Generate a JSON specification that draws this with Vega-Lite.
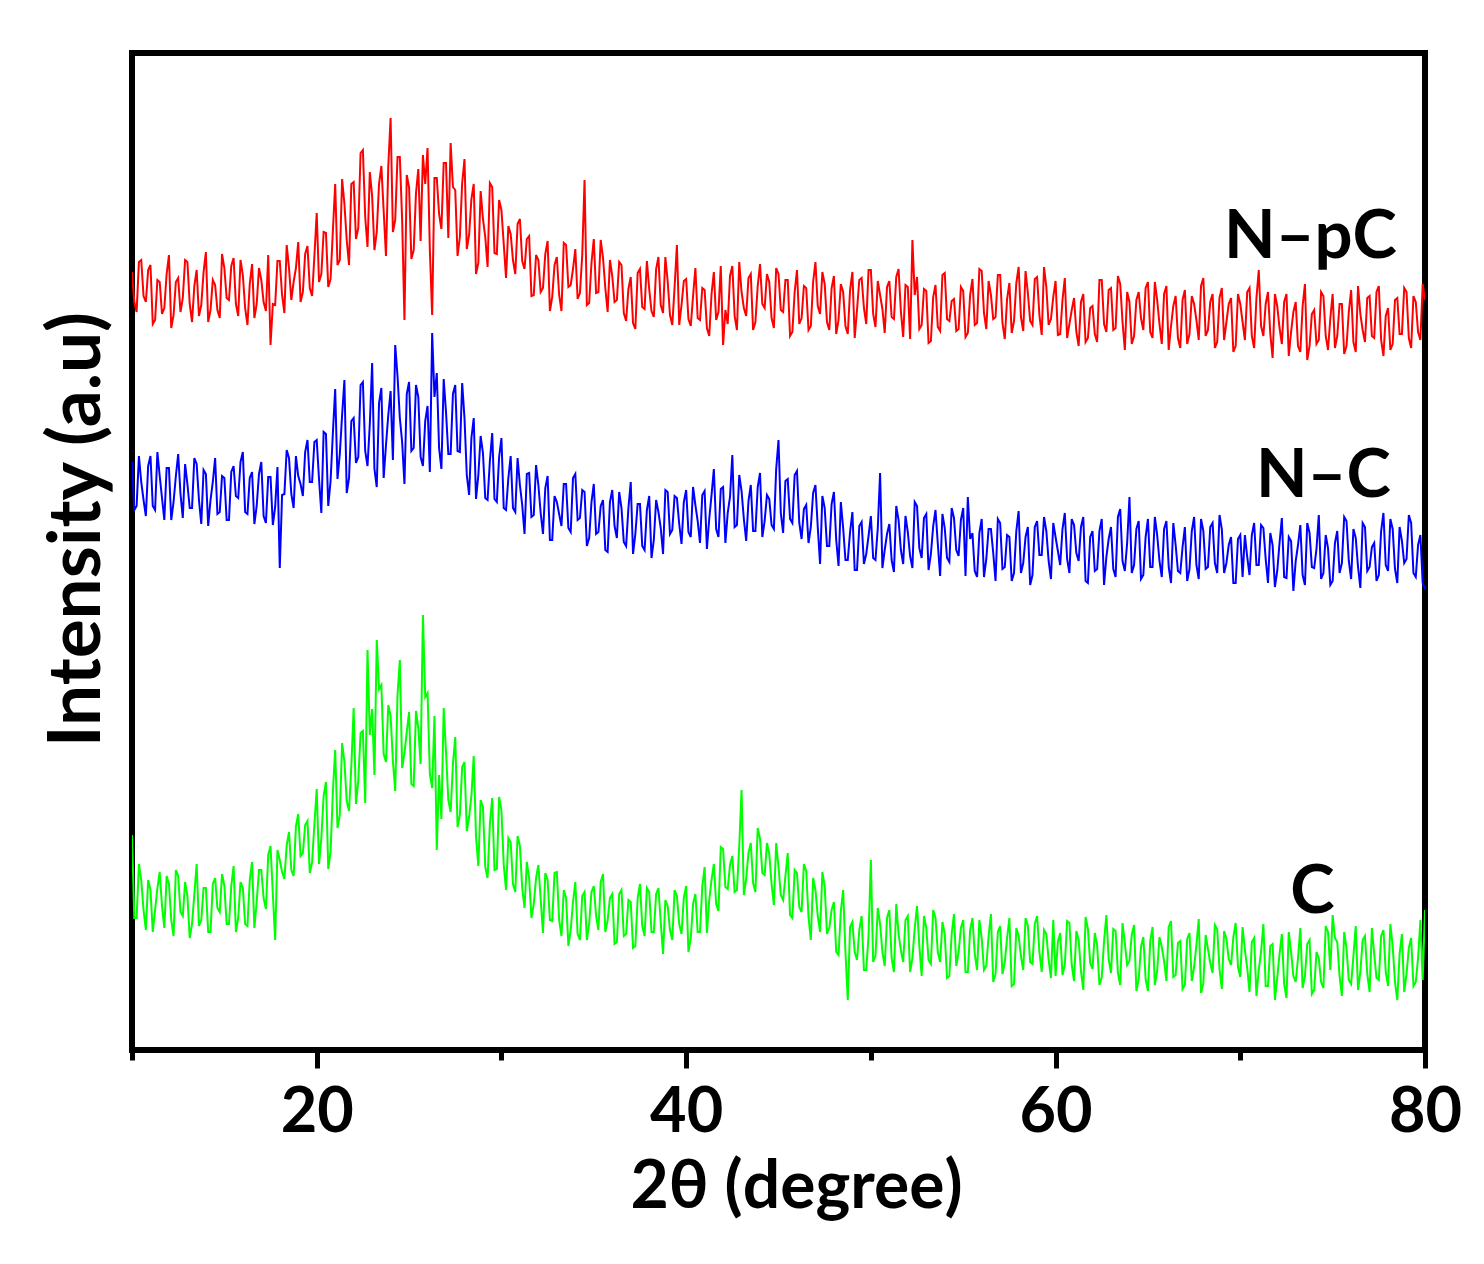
{
"$schema": "https://vega.github.io/schema/vega-lite/v6.json",
"width": 1293, "height": 997,
"autosize": {"type": "none"},
"padding": {"left": 132, "top": 53, "right": 59, "bottom": 214},
"background": "white",
"config": {"view": {"stroke": "black", "strokeWidth": 6}, "font": "Lato"},
"layer": [
{
"data": {"values": [
{"x":10,"NpC":778,"NC":588,"C":215},{"x":10.25,"NpC":738,"NC":544,"C":132},{"x":10.5,"NpC":790,"NC":568,"C":170},{"x":10.75,"NpC":748,"NC":534,"C":120},
{"x":11,"NpC":785,"NC":594,"C":160},{"x":11.25,"NpC":730,"NC":540,"C":140},{"x":11.5,"NpC":768,"NC":574,"C":178},{"x":11.75,"NpC":742,"NC":530,"C":122},
{"x":12,"NpC":795,"NC":582,"C":166},{"x":12.25,"NpC":735,"NC":548,"C":114},{"x":12.5,"NpC":772,"NC":596,"C":174},{"x":12.75,"NpC":752,"NC":532,"C":134},
{"x":13,"NpC":788,"NC":566,"C":154},{"x":13.25,"NpC":728,"NC":542,"C":126},{"x":13.5,"NpC":780,"NC":586,"C":186},{"x":13.75,"NpC":745,"NC":526,"C":130},
{"x":14,"NpC":798,"NC":576,"C":162},{"x":14.25,"NpC":740,"NC":550,"C":118},{"x":14.5,"NpC":765,"NC":592,"C":172},{"x":14.75,"NpC":732,"NC":538,"C":138},
{"x":15,"NpC":782,"NC":572,"C":164},{"x":15.25,"NpC":750,"NC":530,"C":126},{"x":15.5,"NpC":792,"NC":584,"C":184},{"x":15.75,"NpC":734,"NC":552,"C":132},
{"x":16,"NpC":775,"NC":598,"C":162},{"x":16.25,"NpC":725,"NC":536,"C":124},{"x":16.5,"NpC":786,"NC":578,"C":188},{"x":16.75,"NpC":746,"NC":544,"C":148},
{"x":17,"NpC":770,"NC":588,"C":180},{"x":17.25,"NpC":739,"NC":527,"C":141},{"x":17.5,"NpC":705,"NC":573,"C":204},{"x":17.75,"NpC":745,"NC":543,"C":110},
{"x":18,"NpC":789,"NC":482,"C":190},{"x":18.25,"NpC":737,"NC":556,"C":171},{"x":18.5,"NpC":782,"NC":592,"C":218},{"x":18.75,"NpC":768,"NC":542,"C":174},
{"x":19,"NpC":808,"NC":574,"C":236},{"x":19.25,"NpC":758,"NC":554,"C":197},{"x":19.5,"NpC":804,"NC":610,"C":229},{"x":19.75,"NpC":754,"NC":568,"C":188},
{"x":20,"NpC":837,"NC":610,"C":261},{"x":20.25,"NpC":776,"NC":537,"C":212},{"x":20.5,"NpC":817,"NC":616,"C":268},{"x":20.75,"NpC":771,"NC":569,"C":198},
{"x":21,"NpC":866,"NC":661,"C":300},{"x":21.25,"NpC":790,"NC":596,"C":235},{"x":21.5,"NpC":846,"NC":670,"C":288},{"x":21.75,"NpC":785,"NC":572,"C":239},
{"x":22,"NpC":868,"NC":632,"C":342},{"x":22.25,"NpC":822,"NC":593,"C":269},{"x":22.5,"NpC":900,"NC":668,"C":319},{"x":22.75,"NpC":803,"NC":584,"C":400},
{"x":23,"NpC":854,"NC":687,"C":341},{"x":23.25,"NpC":818,"NC":563,"C":410},{"x":23.5,"NpC":884,"NC":662,"C":365},{"x":23.75,"NpC":794,"NC":605,"C":288},
{"x":24,"NpC":932,"NC":659,"C":334},{"x":24.25,"NpC":830,"NC":705,"C":259},{"x":24.5,"NpC":893,"NC":632,"C":390},{"x":24.75,"NpC":730,"NC":566,"C":297},
{"x":25,"NpC":863,"NC":668,"C":338},{"x":25.25,"NpC":800,"NC":602,"C":264},{"x":25.5,"NpC":881,"NC":653,"C":322},{"x":25.75,"NpC":895,"NC":584,"C":435},
{"x":26,"NpC":902,"NC":644,"C":357},{"x":26.25,"NpC":735,"NC":717,"C":262},{"x":26.5,"NpC":872,"NC":677,"C":200},{"x":26.75,"NpC":821,"NC":581,"C":231},
{"x":27,"NpC":887,"NC":638,"C":298},{"x":27.25,"NpC":907,"NC":596,"C":238},{"x":27.5,"NpC":860,"NC":665,"C":313},{"x":27.75,"NpC":813,"NC":598,"C":235},
{"x":28,"NpC":891,"NC":632,"C":288},{"x":28.25,"NpC":815,"NC":555,"C":233},{"x":28.5,"NpC":866,"NC":632,"C":294},{"x":28.75,"NpC":787,"NC":575,"C":184},
{"x":29,"NpC":831,"NC":597,"C":243},{"x":29.25,"NpC":783,"NC":550,"C":172},{"x":29.5,"NpC":863,"NC":617,"C":252},{"x":29.75,"NpC":796,"NC":548,"C":181},
{"x":30,"NpC":840,"NC":612,"C":240},{"x":30.25,"NpC":772,"NC":540,"C":160},{"x":30.5,"NpC":816,"NC":594,"C":208},{"x":30.75,"NpC":776,"NC":538,"C":158},
{"x":31,"NpC":831,"NC":565,"C":204},{"x":31.25,"NpC":781,"NC":516,"C":142},{"x":31.5,"NpC":814,"NC":577,"C":172},{"x":31.75,"NpC":755,"NC":535,"C":146},
{"x":32,"NpC":790,"NC":565,"C":185},{"x":32.25,"NpC":762,"NC":516,"C":117},{"x":32.5,"NpC":809,"NC":574,"C":170},{"x":32.75,"NpC":753,"NC":510,"C":129},
{"x":33,"NpC":793,"NC":548,"C":178},{"x":33.25,"NpC":739,"NC":524,"C":114},{"x":33.5,"NpC":805,"NC":566,"C":152},{"x":33.75,"NpC":765,"NC":518,"C":120},
{"x":34,"NpC":801,"NC":576,"C":168},{"x":34.25,"NpC":757,"NC":532,"C":110},{"x":34.5,"NpC":870,"NC":558,"C":158},{"x":34.75,"NpC":747,"NC":512,"C":126},
{"x":35,"NpC":811,"NC":566,"C":164},{"x":35.25,"NpC":758,"NC":518,"C":120},{"x":35.5,"NpC":792,"NC":550,"C":176},{"x":35.75,"NpC":738,"NC":498,"C":130},
{"x":36,"NpC":774,"NC":560,"C":156},{"x":36.25,"NpC":750,"NC":512,"C":108},{"x":36.5,"NpC":785,"NC":542,"C":160},{"x":36.75,"NpC":729,"NC":504,"C":116},
{"x":37,"NpC":773,"NC":568,"C":148},{"x":37.25,"NpC":721,"NC":516,"C":104},{"x":37.5,"NpC":781,"NC":546,"C":166},{"x":37.75,"NpC":741,"NC":500,"C":114},
{"x":38,"NpC":761,"NC":554,"C":158},{"x":38.25,"NpC":733,"NC":510,"C":118},{"x":38.5,"NpC":793,"NC":538,"C":162},{"x":38.75,"NpC":737,"NC":496,"C":96},
{"x":39,"NpC":769,"NC":558,"C":144},{"x":39.25,"NpC":725,"NC":520,"C":110},{"x":39.5,"NpC":805,"NC":552,"C":154},{"x":39.75,"NpC":745,"NC":506,"C":116},
{"x":40,"NpC":771,"NC":560,"C":164},{"x":40.25,"NpC":724,"NC":513,"C":112},{"x":40.5,"NpC":782,"NC":545,"C":156},{"x":40.75,"NpC":730,"NC":507,"C":118},
{"x":41,"NpC":760,"NC":559,"C":183},{"x":41.25,"NpC":714,"NC":531,"C":150},{"x":41.5,"NpC":778,"NC":581,"C":186},{"x":41.75,"NpC":738,"NC":513,"C":139},
{"x":42,"NpC":705,"NC":563,"C":201},{"x":42.25,"NpC":726,"NC":537,"C":161},{"x":42.5,"NpC":784,"NC":595,"C":194},{"x":42.75,"NpC":720,"NC":525,"C":160},
{"x":43,"NpC":758,"NC":559,"C":260},{"x":43.25,"NpC":734,"NC":509,"C":171},{"x":43.5,"NpC":776,"NC":565,"C":207},{"x":43.75,"NpC":728,"NC":519,"C":158},
{"x":44,"NpC":786,"NC":577,"C":211},{"x":44.25,"NpC":742,"NC":529,"C":175},{"x":44.5,"NpC":768,"NC":551,"C":196},{"x":44.75,"NpC":722,"NC":521,"C":145},
{"x":45,"NpC":776,"NC":610,"C":183},{"x":45.25,"NpC":738,"NC":517,"C":150},{"x":45.5,"NpC":770,"NC":571,"C":197},{"x":45.75,"NpC":718,"NC":527,"C":132},
{"x":46,"NpC":780,"NC":579,"C":177},{"x":46.25,"NpC":732,"NC":511,"C":138},{"x":46.5,"NpC":762,"NC":545,"C":179},{"x":46.75,"NpC":724,"NC":523,"C":110},
{"x":47,"NpC":788,"NC":565,"C":160},{"x":47.25,"NpC":736,"NC":486,"C":118},{"x":47.5,"NpC":766,"NC":542,"C":164},{"x":47.75,"NpC":720,"NC":504,"C":122},
{"x":48,"NpC":774,"NC":558,"C":148},{"x":48.25,"NpC":730,"NC":484,"C":95},{"x":48.5,"NpC":758,"NC":522,"C":160},{"x":48.75,"NpC":716,"NC":490,"C":50},
{"x":49,"NpC":778,"NC":538,"C":128},{"x":49.25,"NpC":740,"NC":480,"C":90},{"x":49.5,"NpC":772,"NC":528,"C":134},{"x":49.75,"NpC":726,"NC":496,"C":80},
{"x":50,"NpC":780,"NC":534,"C":190},{"x":50.25,"NpC":723,"NC":490,"C":94},{"x":50.5,"NpC":755,"NC":577,"C":126},{"x":50.75,"NpC":717,"NC":500,"C":84},
{"x":51,"NpC":769,"NC":526,"C":140},{"x":51.25,"NpC":731,"NC":478,"C":78},{"x":51.5,"NpC":781,"NC":530,"C":116},{"x":51.75,"NpC":713,"NC":486,"C":88},
{"x":52,"NpC":763,"NC":518,"C":134},{"x":52.25,"NpC":810,"NC":482,"C":92},{"x":52.5,"NpC":773,"NC":544,"C":144},{"x":52.75,"NpC":725,"NC":492,"C":74},
{"x":53,"NpC":759,"NC":536,"C":122},{"x":53.25,"NpC":709,"NC":496,"C":86},{"x":53.5,"NpC":765,"NC":540,"C":132},{"x":53.75,"NpC":719,"NC":474,"C":88},
{"x":54,"NpC":777,"NC":522,"C":116},{"x":54.25,"NpC":729,"NC":488,"C":74},{"x":54.5,"NpC":751,"NC":532,"C":136},{"x":54.75,"NpC":721,"NC":494,"C":98},
{"x":55,"NpC":759,"NC":542,"C":130},{"x":55.25,"NpC":717,"NC":553,"C":78},{"x":55.5,"NpC":771,"NC":517,"C":132},{"x":55.75,"NpC":727,"NC":473,"C":80},
{"x":56,"NpC":779,"NC":531,"C":112},{"x":56.25,"NpC":721,"NC":491,"C":84},{"x":56.5,"NpC":755,"NC":521,"C":136},{"x":56.75,"NpC":733,"NC":469,"C":76},
{"x":57,"NpC":775,"NC":527,"C":124},{"x":57.25,"NpC":711,"NC":483,"C":88},{"x":57.5,"NpC":767,"NC":513,"C":132},{"x":57.75,"NpC":729,"NC":477,"C":66},
{"x":58,"NpC":783,"NC":539,"C":114},{"x":58.25,"NpC":719,"NC":487,"C":80},{"x":58.5,"NpC":757,"NC":523,"C":124},{"x":58.75,"NpC":725,"NC":475,"C":86},
{"x":59,"NpC":773,"NC":529,"C":134},{"x":59.25,"NpC":715,"NC":495,"C":78},{"x":59.5,"NpC":763,"NC":519,"C":116},{"x":59.75,"NpC":731,"NC":471,"C":72},
{"x":60,"NpC":769,"NC":513,"C":74},{"x":60.25,"NpC":716,"NC":485,"C":117},{"x":60.5,"NpC":772,"NC":537,"C":85},{"x":60.75,"NpC":726,"NC":477,"C":127},
{"x":61,"NpC":752,"NC":525,"C":69},{"x":61.25,"NpC":704,"NC":489,"C":110},{"x":61.5,"NpC":756,"NC":533,"C":60},{"x":61.75,"NpC":712,"NC":467,"C":121},
{"x":62,"NpC":744,"NC":519,"C":81},{"x":62.25,"NpC":708,"NC":481,"C":105},{"x":62.5,"NpC":770,"NC":531,"C":73},{"x":62.75,"NpC":718,"NC":493,"C":135},
{"x":63,"NpC":762,"NC":523,"C":77},{"x":63.25,"NpC":722,"NC":473,"C":119},{"x":63.5,"NpC":766,"NC":541,"C":65},{"x":63.75,"NpC":700,"NC":479,"C":107},
{"x":64,"NpC":748,"NC":553,"C":89},{"x":64.25,"NpC":714,"NC":485,"C":125},{"x":64.5,"NpC":758,"NC":529,"C":71},{"x":64.75,"NpC":720,"NC":475,"C":113},
{"x":65,"NpC":768,"NC":531,"C":59},{"x":65.25,"NpC":712,"NC":483,"C":123},{"x":65.5,"NpC":750,"NC":515,"C":79},{"x":65.75,"NpC":706,"NC":473,"C":103},
{"x":66,"NpC":764,"NC":529,"C":69},{"x":66.25,"NpC":724,"NC":467,"C":129},{"x":66.5,"NpC":754,"NC":505,"C":75},{"x":66.75,"NpC":702,"NC":477,"C":109},
{"x":67,"NpC":760,"NC":523,"C":65},{"x":67.25,"NpC":716,"NC":481,"C":117},{"x":67.5,"NpC":746,"NC":533,"C":83},{"x":67.75,"NpC":710,"NC":471,"C":131},
{"x":68,"NpC":772,"NC":519,"C":67},{"x":68.25,"NpC":720,"NC":483,"C":101},{"x":68.5,"NpC":756,"NC":527,"C":77},{"x":68.75,"NpC":708,"NC":477,"C":121},
{"x":69,"NpC":762,"NC":521,"C":61},{"x":69.25,"NpC":728,"NC":487,"C":111},{"x":69.5,"NpC":752,"NC":513,"C":85},{"x":69.75,"NpC":704,"NC":467,"C":127},
{"x":70,"NpC":746,"NC":515,"C":73},{"x":70.25,"NpC":710,"NC":515,"C":100},{"x":70.5,"NpC":762,"NC":475,"C":58},{"x":70.75,"NpC":702,"NC":527,"C":112},
{"x":71,"NpC":780,"NC":485,"C":80},{"x":71.25,"NpC":714,"NC":522,"C":126},{"x":71.5,"NpC":758,"NC":467,"C":64},{"x":71.75,"NpC":692,"NC":505,"C":106},
{"x":72,"NpC":744,"NC":479,"C":72},{"x":72.25,"NpC":706,"NC":532,"C":116},{"x":72.5,"NpC":756,"NC":472,"C":52},{"x":72.75,"NpC":718,"NC":509,"C":98},
{"x":73,"NpC":748,"NC":489,"C":68},{"x":73.25,"NpC":698,"NC":525,"C":122},{"x":73.5,"NpC":766,"NC":465,"C":74},{"x":73.75,"NpC":704,"NC":517,"C":110},
{"x":74,"NpC":740,"NC":482,"C":60},{"x":74.25,"NpC":710,"NC":535,"C":92},{"x":74.5,"NpC":754,"NC":477,"C":62},{"x":74.75,"NpC":700,"NC":502,"C":118},
{"x":75,"NpC":756,"NC":469,"C":135},{"x":75.25,"NpC":714,"NC":519,"C":108},{"x":75.5,"NpC":746,"NC":487,"C":54},{"x":75.75,"NpC":704,"NC":529,"C":102},
{"x":76,"NpC":760,"NC":471,"C":66},{"x":76.25,"NpC":698,"NC":512,"C":124},{"x":76.5,"NpC":736,"NC":462,"C":78},{"x":76.75,"NpC":708,"NC":523,"C":114},
{"x":77,"NpC":754,"NC":483,"C":58},{"x":77.25,"NpC":712,"NC":507,"C":96},{"x":77.5,"NpC":764,"NC":475,"C":70},{"x":77.75,"NpC":694,"NC":537,"C":120},
{"x":78,"NpC":742,"NC":479,"C":64},{"x":78.25,"NpC":706,"NC":521,"C":104},{"x":78.5,"NpC":752,"NC":467,"C":50},{"x":78.75,"NpC":716,"NC":509,"C":116},
{"x":79,"NpC":758,"NC":491,"C":76},{"x":79.25,"NpC":702,"NC":527,"C":112},{"x":79.5,"NpC":748,"NC":473,"C":68},{"x":79.75,"NpC":710,"NC":515,"C":130},
{"x":80,"NpC":750,"NC":461,"C":140},
{"x":10.125,"NpC":748,"NC":540,"C":132},{"x":10.375,"NpC":788,"NC":594,"C":186},{"x":10.625,"NpC":754,"NC":550,"C":140},{"x":10.875,"NpC":780,"NC":584,"C":170},
{"x":11.125,"NpC":726,"NC":544,"C":118},{"x":11.375,"NpC":770,"NC":598,"C":162},{"x":11.625,"NpC":736,"NC":552,"C":144},{"x":11.875,"NpC":776,"NC":582,"C":174},
{"x":12.125,"NpC":722,"NC":530,"C":130},{"x":12.375,"NpC":768,"NC":574,"C":180},{"x":12.625,"NpC":738,"NC":556,"C":138},{"x":12.875,"NpC":790,"NC":586,"C":168},
{"x":13.125,"NpC":746,"NC":542,"C":112},{"x":13.375,"NpC":764,"NC":592,"C":156},{"x":13.625,"NpC":734,"NC":550,"C":124},{"x":13.875,"NpC":778,"NC":580,"C":162},
{"x":14.125,"NpC":728,"NC":524,"C":118},{"x":14.375,"NpC":770,"NC":568,"C":166},{"x":14.625,"NpC":740,"NC":536,"C":142},{"x":14.875,"NpC":796,"NC":574,"C":176},
{"x":15.125,"NpC":752,"NC":530,"C":126},{"x":15.375,"NpC":784,"NC":578,"C":164},{"x":15.625,"NpC":746,"NC":554,"C":118},{"x":15.875,"NpC":790,"NC":588,"C":168},
{"x":16.125,"NpC":742,"NC":538,"C":126},{"x":16.375,"NpC":766,"NC":572,"C":170},{"x":16.625,"NpC":732,"NC":526,"C":122},{"x":16.875,"NpC":782,"NC":576,"C":180},
{"x":17.125,"NpC":748,"NC":534,"C":152},{"x":17.375,"NpC":795,"NC":573,"C":195},{"x":17.625,"NpC":746,"NC":525,"C":156},{"x":17.875,"NpC":789,"NC":583,"C":200},
{"x":18.125,"NpC":755,"NC":555,"C":178},{"x":18.375,"NpC":805,"NC":600,"C":205},{"x":18.625,"NpC":750,"NC":556,"C":180},{"x":18.875,"NpC":782,"NC":594,"C":224},
{"x":19.125,"NpC":748,"NC":566,"C":194},{"x":19.375,"NpC":796,"NC":598,"C":225},{"x":19.625,"NpC":762,"NC":568,"C":177},{"x":19.875,"NpC":794,"NC":608,"C":226},
{"x":20.125,"NpC":768,"NC":571,"C":186},{"x":20.375,"NpC":818,"NC":618,"C":254},{"x":20.625,"NpC":763,"NC":544,"C":181},{"x":20.875,"NpC":819,"NC":617,"C":258},
{"x":21.125,"NpC":785,"NC":571,"C":222},{"x":21.375,"NpC":871,"NC":635,"C":307},{"x":21.625,"NpC":810,"NC":557,"C":249},{"x":21.875,"NpC":866,"NC":629,"C":284},
{"x":22.125,"NpC":811,"NC":587,"C":246},{"x":22.375,"NpC":897,"NC":665,"C":317},{"x":22.625,"NpC":833,"NC":599,"C":247},{"x":22.875,"NpC":878,"NC":626,"C":315},
{"x":23.125,"NpC":800,"NC":581,"C":275},{"x":23.375,"NpC":866,"NC":647,"C":361},{"x":23.625,"NpC":839,"NC":572,"C":296},{"x":23.875,"NpC":884,"NC":635,"C":345},
{"x":24.125,"NpC":818,"NC":590,"C":289},{"x":24.375,"NpC":893,"NC":674,"C":355},{"x":24.625,"NpC":830,"NC":608,"C":282},{"x":24.875,"NpC":875,"NC":656,"C":318},
{"x":25.125,"NpC":791,"NC":599,"C":266},{"x":25.375,"NpC":857,"NC":665,"C":339},{"x":25.625,"NpC":809,"NC":593,"C":286},{"x":25.875,"NpC":866,"NC":629,"C":353},
{"x":26.125,"NpC":800,"NC":578,"C":276},{"x":26.375,"NpC":872,"NC":653,"C":334},{"x":26.625,"NpC":836,"NC":602,"C":275},{"x":26.875,"NpC":887,"NC":671,"C":342},
{"x":27.125,"NpC":812,"NC":596,"C":250},{"x":27.375,"NpC":863,"NC":656,"C":286},{"x":27.625,"NpC":794,"NC":599,"C":223},{"x":27.875,"NpC":867,"NC":667,"C":283},
{"x":28.125,"NpC":801,"NC":575,"C":219},{"x":28.375,"NpC":851,"NC":612,"C":254},{"x":28.625,"NpC":776,"NC":551,"C":213},{"x":28.875,"NpC":859,"NC":614,"C":250},
{"x":29.125,"NpC":813,"NC":552,"C":183},{"x":29.375,"NpC":867,"NC":589,"C":226},{"x":29.625,"NpC":797,"NC":551,"C":180},{"x":29.875,"NpC":850,"NC":593,"C":253},
{"x":30.125,"NpC":806,"NC":542,"C":185},{"x":30.375,"NpC":824,"NC":572,"C":212},{"x":30.625,"NpC":790,"NC":542,"C":166},{"x":30.875,"NpC":826,"NC":592,"C":214},
{"x":31.125,"NpC":789,"NC":545,"C":162},{"x":31.375,"NpC":811,"NC":576,"C":188},{"x":31.625,"NpC":754,"NC":533,"C":132},{"x":31.875,"NpC":795,"NC":585,"C":172},
{"x":32.125,"NpC":758,"NC":537,"C":151},{"x":32.375,"NpC":796,"NC":562,"C":177},{"x":32.625,"NpC":739,"NC":510,"C":130},{"x":32.875,"NpC":785,"NC":554,"C":177},
{"x":33.125,"NpC":755,"NC":536,"C":130},{"x":33.375,"NpC":807,"NC":566,"C":160},{"x":33.625,"NpC":763,"NC":522,"C":104},{"x":33.875,"NpC":781,"NC":572,"C":148},
{"x":34.125,"NpC":751,"NC":530,"C":116},{"x":34.375,"NpC":795,"NC":560,"C":154},{"x":34.625,"NpC":745,"NC":504,"C":110},{"x":34.875,"NpC":787,"NC":548,"C":158},
{"x":35.125,"NpC":757,"NC":516,"C":134},{"x":35.375,"NpC":810,"NC":544,"C":168},{"x":35.625,"NpC":762,"NC":500,"C":118},{"x":35.875,"NpC":790,"NC":548,"C":152},
{"x":36.125,"NpC":748,"NC":524,"C":106},{"x":36.375,"NpC":788,"NC":558,"C":156},{"x":36.625,"NpC":737,"NC":508,"C":114},{"x":36.875,"NpC":761,"NC":542,"C":150},
{"x":37.125,"NpC":727,"NC":496,"C":102},{"x":37.375,"NpC":777,"NC":546,"C":152},{"x":37.625,"NpC":743,"NC":504,"C":124},{"x":37.875,"NpC":789,"NC":540,"C":162},
{"x":38.125,"NpC":739,"NC":492,"C":118},{"x":38.375,"NpC":781,"NC":550,"C":156},{"x":38.625,"NpC":745,"NC":522,"C":128},{"x":38.875,"NpC":793,"NC":560,"C":150},
{"x":39.125,"NpC":735,"NC":516,"C":120},{"x":39.375,"NpC":763,"NC":554,"C":160},{"x":39.625,"NpC":725,"NC":526,"C":126},{"x":39.875,"NpC":769,"NC":548,"C":152},
{"x":40.125,"NpC":731,"NC":518,"C":98},{"x":40.375,"NpC":754,"NC":563,"C":146},{"x":40.625,"NpC":732,"NC":529,"C":118},{"x":40.875,"NpC":762,"NC":555,"C":164},
{"x":41.125,"NpC":722,"NC":501,"C":117},{"x":41.375,"NpC":756,"NC":555,"C":170},{"x":41.625,"NpC":730,"NC":521,"C":146},{"x":41.875,"NpC":784,"NC":561,"C":203},
{"x":42.125,"NpC":740,"NC":507,"C":163},{"x":42.375,"NpC":774,"NC":553,"C":185},{"x":42.625,"NpC":734,"NC":523,"C":158},{"x":42.875,"NpC":788,"NC":575,"C":204},
{"x":43.125,"NpC":742,"NC":531,"C":155},{"x":43.375,"NpC":772,"NC":549,"C":197},{"x":43.625,"NpC":720,"NC":519,"C":167},{"x":43.875,"NpC":764,"NC":563,"C":222},
{"x":44.125,"NpC":746,"NC":513,"C":177},{"x":44.375,"NpC":776,"NC":555,"C":207},{"x":44.625,"NpC":732,"NC":525,"C":166},{"x":44.875,"NpC":782,"NC":581,"C":207},
{"x":45.125,"NpC":740,"NC":537,"C":155},{"x":45.375,"NpC":770,"NC":569,"C":174},{"x":45.625,"NpC":714,"NC":531,"C":135},{"x":45.875,"NpC":758,"NC":575,"C":180},
{"x":46.125,"NpC":726,"NC":527,"C":143},{"x":46.375,"NpC":764,"NC":541,"C":186},{"x":46.625,"NpC":720,"NC":507,"C":133},{"x":46.875,"NpC":768,"NC":557,"C":172},
{"x":47.125,"NpC":744,"NC":523,"C":134},{"x":47.375,"NpC":778,"NC":554,"C":178},{"x":47.625,"NpC":728,"NC":504,"C":116},{"x":47.875,"NpC":762,"NC":546,"C":140},
{"x":48.125,"NpC":716,"NC":510,"C":98},{"x":48.375,"NpC":766,"NC":548,"C":139},{"x":48.625,"NpC":724,"NC":490,"C":98},{"x":48.875,"NpC":760,"NC":518,"C":123},
{"x":49.125,"NpC":712,"NC":480,"C":98},{"x":49.375,"NpC":770,"NC":524,"C":120},{"x":49.625,"NpC":742,"NC":486,"C":80},{"x":49.875,"NpC":780,"NC":514,"C":114},
{"x":50.125,"NpC":736,"NC":492,"C":88},{"x":50.375,"NpC":769,"NC":522,"C":142},{"x":50.625,"NpC":741,"NC":482,"C":98},{"x":50.875,"NpC":763,"NC":516,"C":132},
{"x":51.125,"NpC":733,"NC":490,"C":92},{"x":51.375,"NpC":773,"NC":544,"C":146},{"x":51.625,"NpC":739,"NC":500,"C":100},{"x":51.875,"NpC":765,"NC":534,"C":130},
{"x":52.125,"NpC":711,"NC":494,"C":78},{"x":52.375,"NpC":755,"NC":548,"C":122},{"x":52.625,"NpC":721,"NC":502,"C":104},{"x":52.875,"NpC":761,"NC":532,"C":134},
{"x":53.125,"NpC":707,"NC":480,"C":90},{"x":53.375,"NpC":753,"NC":524,"C":140},{"x":53.625,"NpC":723,"NC":506,"C":98},{"x":53.875,"NpC":775,"NC":536,"C":128},
{"x":54.125,"NpC":731,"NC":492,"C":72},{"x":54.375,"NpC":749,"NC":542,"C":116},{"x":54.625,"NpC":719,"NC":500,"C":84},{"x":54.875,"NpC":763,"NC":530,"C":122},
{"x":55.125,"NpC":713,"NC":474,"C":78},{"x":55.375,"NpC":755,"NC":511,"C":120},{"x":55.625,"NpC":725,"NC":479,"C":96},{"x":55.875,"NpC":781,"NC":517,"C":130},
{"x":56.125,"NpC":737,"NC":473,"C":80},{"x":56.375,"NpC":769,"NC":521,"C":114},{"x":56.625,"NpC":731,"NC":497,"C":68},{"x":56.875,"NpC":775,"NC":531,"C":118},
{"x":57.125,"NpC":727,"NC":481,"C":76},{"x":57.375,"NpC":751,"NC":515,"C":112},{"x":57.625,"NpC":717,"NC":469,"C":64},{"x":57.875,"NpC":767,"NC":519,"C":122},
{"x":58.125,"NpC":733,"NC":477,"C":94},{"x":58.375,"NpC":779,"NC":513,"C":132},{"x":58.625,"NpC":729,"NC":465,"C":88},{"x":58.875,"NpC":771,"NC":523,"C":126},
{"x":59.125,"NpC":735,"NC":495,"C":98},{"x":59.375,"NpC":783,"NC":533,"C":120},{"x":59.625,"NpC":725,"NC":489,"C":90},{"x":59.875,"NpC":753,"NC":527,"C":130},
{"x":60.125,"NpC":715,"NC":499,"C":108},{"x":60.375,"NpC":750,"NC":521,"C":75},{"x":60.625,"NpC":712,"NC":491,"C":129},{"x":60.875,"NpC":740,"NC":531,"C":85},
{"x":61.125,"NpC":718,"NC":497,"C":119},{"x":61.375,"NpC":748,"NC":523,"C":79},{"x":61.625,"NpC":708,"NC":469,"C":133},{"x":61.875,"NpC":742,"NC":513,"C":87},
{"x":62.125,"NpC":716,"NC":479,"C":117},{"x":62.375,"NpC":770,"NC":519,"C":65},{"x":62.625,"NpC":726,"NC":465,"C":109},{"x":62.875,"NpC":760,"NC":511,"C":91},
{"x":63.125,"NpC":720,"NC":481,"C":121},{"x":63.375,"NpC":774,"NC":533,"C":77},{"x":63.625,"NpC":728,"NC":489,"C":127},{"x":63.875,"NpC":758,"NC":507,"C":85},
{"x":64.125,"NpC":706,"NC":477,"C":115},{"x":64.375,"NpC":750,"NC":521,"C":59},{"x":64.625,"NpC":732,"NC":471,"C":103},{"x":64.875,"NpC":762,"NC":513,"C":71},
{"x":65.125,"NpC":718,"NC":483,"C":109},{"x":65.375,"NpC":768,"NC":533,"C":65},{"x":65.625,"NpC":726,"NC":489,"C":113},{"x":65.875,"NpC":756,"NC":521,"C":89},
{"x":66.125,"NpC":700,"NC":483,"C":123},{"x":66.375,"NpC":744,"NC":527,"C":73},{"x":66.625,"NpC":712,"NC":479,"C":107},{"x":66.875,"NpC":750,"NC":503,"C":61},
{"x":67.125,"NpC":706,"NC":469,"C":111},{"x":67.375,"NpC":754,"NC":519,"C":69},{"x":67.625,"NpC":730,"NC":485,"C":105},{"x":67.875,"NpC":764,"NC":531,"C":57},
{"x":68.125,"NpC":714,"NC":481,"C":115},{"x":68.375,"NpC":748,"NC":523,"C":87},{"x":68.625,"NpC":702,"NC":487,"C":125},{"x":68.875,"NpC":752,"NC":535,"C":81},
{"x":69.125,"NpC":710,"NC":477,"C":119},{"x":69.375,"NpC":746,"NC":505,"C":91},{"x":69.625,"NpC":698,"NC":467,"C":113},{"x":69.875,"NpC":756,"NC":511,"C":83},
{"x":70.125,"NpC":728,"NC":473,"C":123},{"x":70.375,"NpC":758,"NC":493,"C":82},{"x":70.625,"NpC":714,"NC":515,"C":108},{"x":70.875,"NpC":752,"NC":485,"C":54},
{"x":71.125,"NpC":724,"NC":525,"C":98},{"x":71.375,"NpC":746,"NC":491,"C":64},{"x":71.625,"NpC":716,"NC":517,"C":104},{"x":71.875,"NpC":756,"NC":463,"C":50},
{"x":72.125,"NpC":722,"NC":507,"C":96},{"x":72.375,"NpC":748,"NC":473,"C":66},{"x":72.625,"NpC":694,"NC":513,"C":118},{"x":72.875,"NpC":738,"NC":459,"C":74},
{"x":73.125,"NpC":704,"NC":505,"C":92},{"x":73.375,"NpC":744,"NC":475,"C":62},{"x":73.625,"NpC":690,"NC":527,"C":106},{"x":73.875,"NpC":736,"NC":483,"C":56},
{"x":74.125,"NpC":706,"NC":501,"C":98},{"x":74.375,"NpC":758,"NC":471,"C":68},{"x":74.625,"NpC":714,"NC":515,"C":124},{"x":74.875,"NpC":732,"NC":465,"C":80},
{"x":75.125,"NpC":702,"NC":507,"C":112},{"x":75.375,"NpC":746,"NC":477,"C":74},{"x":75.625,"NpC":696,"NC":533,"C":118},{"x":75.875,"NpC":738,"NC":489,"C":70},
{"x":76.125,"NpC":708,"NC":521,"C":94},{"x":76.375,"NpC":764,"NC":483,"C":60},{"x":76.625,"NpC":720,"NC":527,"C":110},{"x":76.875,"NpC":752,"NC":479,"C":76},
{"x":77.125,"NpC":714,"NC":503,"C":122},{"x":77.375,"NpC":758,"NC":469,"C":72},{"x":77.625,"NpC":710,"NC":519,"C":114},{"x":77.875,"NpC":734,"NC":485,"C":78},
{"x":78.125,"NpC":700,"NC":531,"C":126},{"x":78.375,"NpC":750,"NC":481,"C":68},{"x":78.625,"NpC":716,"NC":523,"C":96},{"x":78.875,"NpC":762,"NC":487,"C":58},
{"x":79.125,"NpC":712,"NC":535,"C":102},{"x":79.375,"NpC":754,"NC":477,"C":64},{"x":79.625,"NpC":718,"NC":505,"C":92},{"x":79.875,"NpC":766,"NC":467,"C":70}
]},
"transform": [{"fold": ["NpC", "NC", "C"], "as": ["series", "intensity"]}],
"mark": {"type": "line", "strokeWidth": 2, "clip": true},
"encoding": {
"x": {"field": "x", "type": "quantitative",
"scale": {"domain": [10, 80], "nice": false, "zero": false},
"axis": {"values": [10, 20, 30, 40, 50, 60, 70, 80],
"labelExpr": "datum.value % 20 === 0 ? datum.label : ''",
"tickSize": {"condition": {"test": "datum.value % 20 === 0", "value": 18}, "value": 10},
"tickWidth": 5, "tickColor": "black", "domain": false, "grid": false,
"labelFont": "Lato", "labelFontWeight": "bold", "labelFontSize": 63, "labelColor": "black",
"labelPadding": 13, "labelFlush": false, "labelOverlap": false,
"title": "2θ (degree)", "titleFont": "Lato", "titleFontWeight": "bold", "titleFontSize": 66,
"titleColor": "black", "titleX": 664, "titleY": 157, "titleBaseline": "alphabetic", "titleAlign": "center"}},
"y": {"field": "intensity", "type": "quantitative",
"scale": {"domain": [0, 997], "nice": false, "zero": false},
"axis": {"labels": false, "ticks": false, "domain": false, "grid": false,
"title": "Intensity (a.u)", "titleFont": "Lato", "titleFontWeight": "bold", "titleFontSize": 73,
"titleColor": "black", "titleX": -33, "titleY": 476, "titleBaseline": "alphabetic", "titleAlign": "center", "titleAngle": 270}},
"color": {"field": "series", "type": "nominal",
"scale": {"domain": ["NpC", "NC", "C"], "range": ["#ff0000", "#0000ff", "#00ff00"]}, "legend": null}
}
},
{
"data": {"values": [
{"x": 73.8, "y": 792, "label": "N–pC"},
{"x": 74.5, "y": 553, "label": "N–C"},
{"x": 73.9, "y": 137, "label": "C"}
]},
"mark": {"type": "text", "font": "Lato", "fontWeight": "bold", "fontSize": 67, "baseline": "alphabetic", "align": "center", "color": "black"},
"encoding": {
"x": {"field": "x", "type": "quantitative"},
"y": {"field": "y", "type": "quantitative"},
"text": {"field": "label"}
}
}
]
}
